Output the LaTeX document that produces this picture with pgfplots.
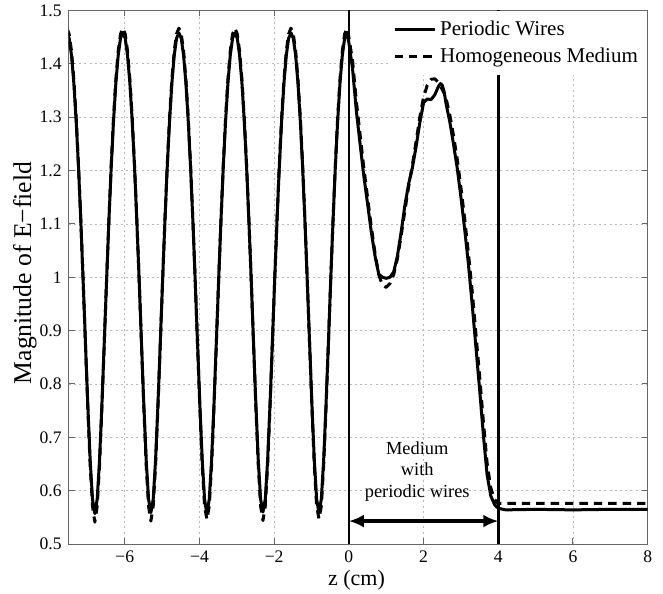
\documentclass[border=0pt]{standalone}
\usepackage{fontspec}
\setmainfont{Liberation Serif}
\usepackage{pgfplots}
\pgfplotsset{compat=1.18}
\usepackage{pgfplotstable}
\usetikzlibrary{arrows.meta}

% z (cm), periodic wires (w), homogeneous medium (h)
\pgfplotstableread{
z w h
-7.55 1.458 1.467
-7.4875 1.448 1.456
-7.425 1.416 1.424
-7.3625 1.364 1.371
-7.3 1.293 1.299
-7.2375 1.206 1.210
-7.175 1.104 1.106
-7.1125 0.992 0.992
-7.05 0.874 0.871
-6.9875 0.759 0.753
-6.925 0.657 0.647
-6.8625 0.584 0.571
-6.8 0.557 0.541
-6.7375 0.584 0.571
-6.675 0.657 0.647
-6.6125 0.759 0.753
-6.55 0.874 0.871
-6.4875 0.992 0.992
-6.425 1.104 1.106
-6.3625 1.206 1.210
-6.3 1.293 1.299
-6.2375 1.364 1.371
-6.175 1.416 1.424
-6.1125 1.448 1.456
-6.05 1.458 1.467
-5.9875 1.448 1.456
-5.925 1.416 1.424
-5.8625 1.364 1.371
-5.8 1.293 1.299
-5.7375 1.206 1.210
-5.675 1.104 1.106
-5.6125 0.992 0.992
-5.55 0.874 0.871
-5.4875 0.759 0.753
-5.425 0.657 0.647
-5.3625 0.584 0.571
-5.3 0.559 0.543
-5.2375 0.584 0.571
-5.175 0.657 0.647
-5.1125 0.759 0.753
-5.05 0.874 0.871
-4.9875 0.992 0.992
-4.925 1.104 1.106
-4.8625 1.206 1.210
-4.8 1.293 1.299
-4.7375 1.364 1.371
-4.675 1.416 1.424
-4.6125 1.448 1.456
-4.55 1.458 1.467
-4.4875 1.448 1.456
-4.425 1.416 1.424
-4.3625 1.364 1.371
-4.3 1.293 1.299
-4.2375 1.206 1.210
-4.175 1.104 1.106
-4.1125 0.992 0.992
-4.05 0.874 0.871
-3.9875 0.759 0.753
-3.925 0.657 0.647
-3.8625 0.584 0.571
-3.8 0.556 0.546
-3.7375 0.584 0.571
-3.675 0.657 0.647
-3.6125 0.759 0.753
-3.55 0.874 0.871
-3.4875 0.992 0.992
-3.425 1.104 1.106
-3.3625 1.206 1.210
-3.3 1.293 1.299
-3.2375 1.364 1.371
-3.175 1.416 1.424
-3.1125 1.448 1.456
-3.05 1.458 1.467
-2.9875 1.448 1.456
-2.925 1.416 1.424
-2.8625 1.364 1.371
-2.8 1.293 1.299
-2.7375 1.206 1.210
-2.675 1.104 1.106
-2.6125 0.992 0.992
-2.55 0.874 0.871
-2.4875 0.759 0.753
-2.425 0.657 0.647
-2.3625 0.584 0.571
-2.3 0.560 0.544
-2.2375 0.584 0.571
-2.175 0.657 0.647
-2.1125 0.759 0.753
-2.05 0.874 0.871
-1.9875 0.992 0.992
-1.925 1.104 1.106
-1.8625 1.206 1.210
-1.8 1.293 1.299
-1.7375 1.364 1.371
-1.675 1.416 1.424
-1.6125 1.448 1.456
-1.55 1.458 1.467
-1.4875 1.448 1.456
-1.425 1.416 1.424
-1.3625 1.364 1.371
-1.3 1.293 1.299
-1.2375 1.206 1.210
-1.175 1.104 1.106
-1.1125 0.992 0.992
-1.05 0.874 0.871
-0.9875 0.759 0.753
-0.925 0.657 0.647
-0.8625 0.584 0.571
-0.8 0.558 0.547
-0.7375 0.584 0.571
-0.675 0.657 0.647
-0.6125 0.759 0.753
-0.55 0.874 0.871
-0.4875 0.992 0.992
-0.425 1.104 1.106
-0.3625 1.206 1.210
-0.3 1.293 1.299
-0.2375 1.364 1.371
-0.175 1.416 1.424
-0.1125 1.448 1.456
-0.05 1.458 1.467
0 1.440 1.450
0.1 1.390 1.405
0.2 1.312 1.330
0.3 1.250 1.268
0.4 1.190 1.205
0.5 1.138 1.150
0.6 1.085 1.095
0.7 1.040 1.045
0.8 1.006 1.005
0.9 1.000 0.985
1.0 0.998 0.981
1.1 1.000 0.988
1.2 1.010 1.005
1.3 1.040 1.035
1.4 1.085 1.078
1.5 1.135 1.125
1.6 1.175 1.170
1.7 1.205 1.210
1.8 1.245 1.255
1.9 1.290 1.300
2.0 1.327 1.338
2.1 1.334 1.360
2.2 1.333 1.371
2.3 1.342 1.372
2.4 1.358 1.365
2.45 1.363 1.358
2.5 1.360 1.352
2.55 1.348 1.345
2.6 1.326 1.336
2.7 1.292 1.305
2.8 1.250 1.266
2.9 1.205 1.222
3.0 1.150 1.168
3.1 1.090 1.110
3.2 1.025 1.045
3.3 0.950 0.975
3.4 0.870 0.895
3.5 0.790 0.815
3.6 0.705 0.730
3.7 0.630 0.652
3.8 0.590 0.605
3.9 0.574 0.584
3.95 0.570 0.579
4.0 0.567 0.576
4.2 0.564 0.576
5 0.565 0.576
6 0.564 0.576
7 0.565 0.576
8 0.565 0.576
}\efield

\begin{document}
\begin{tikzpicture}
\begin{axis}[
  scale only axis,
  width=289.5pt, height=266.75pt,
  xmin=-7.5, xmax=8, ymin=0.5, ymax=1.5,
  xtick={-6,-4,-2,0,2,4,6,8},
  xticklabels={−6,−4,−2,0,2,4,6,8},
  ytick={0.5,0.6,0.7,0.8,0.9,1,1.1,1.2,1.3,1.4,1.5},
  yticklabels={0.5,0.6,0.7,0.8,0.9,1,1.1,1.2,1.3,1.4,1.5},
  tick label style={font=\fontsize{8.8}{10}\selectfont},
  major tick length=3pt,
  tick style={black!60, line width=0.5pt},
  axis line style={black!60, line width=0.5pt},
  grid=major,
  major grid style={gray!55, line width=0.4pt, dash pattern=on 1pt off 1.6pt},
  xlabel={z (cm)},
  ylabel={Magnitude of E−field},
  xlabel style={font=\fontsize{11}{13}\selectfont, at={(axis description cs:0.497,0)}, anchor=center, yshift=-18pt},
  ylabel style={font=\fontsize{12.8}{15}\selectfont, at={(axis description cs:-0.0755,0.508)}, anchor=center},
  legend style={at={(1,1)}, anchor=north east, draw=none, fill=white,
    inner xsep=2.7pt, inner ysep=3pt, row sep=0.7pt,
    font=\fontsize{10.5}{12}\selectfont, cells={anchor=west}},
  legend image code/.code={\draw[#1] (0pt,0pt) -- (20pt,0pt);},
]
\addplot[black, line width=1.5pt, line join=round] table[x=z, y=w] {\efield};
\addlegendentry{Periodic Wires}
\addplot[black, line width=1.5pt, line join=round, dash pattern=on 4.2pt off 3pt] table[x=z, y=h] {\efield};
\addlegendentry{Homogeneous Medium}

% slab boundaries and annotation
\draw[line width=1.3pt] (axis cs:0,0.5) -- (axis cs:0,1.5);
\draw[line width=1.3pt] (axis cs:4,0.5) -- (axis cs:4,1.5);
\draw[line width=2pt, {Latex[length=7.5pt,width=6.5pt]}-{Latex[length=7.5pt,width=6.5pt]}]
  (axis cs:0,0.543) -- (axis cs:4,0.543);
\node[align=center, font=\fontsize{9.2}{10.8}\selectfont] at (axis cs:1.83,0.636)
  {Medium\\with\\periodic wires};
\end{axis}
\pgfresetboundingbox
\path[use as bounding box] ([shift={(-34.35pt,-24.5pt)}]current axis.south west)
  rectangle ([shift={(7.65pt,5.25pt)}]current axis.north east);
\end{tikzpicture}
\end{document}
